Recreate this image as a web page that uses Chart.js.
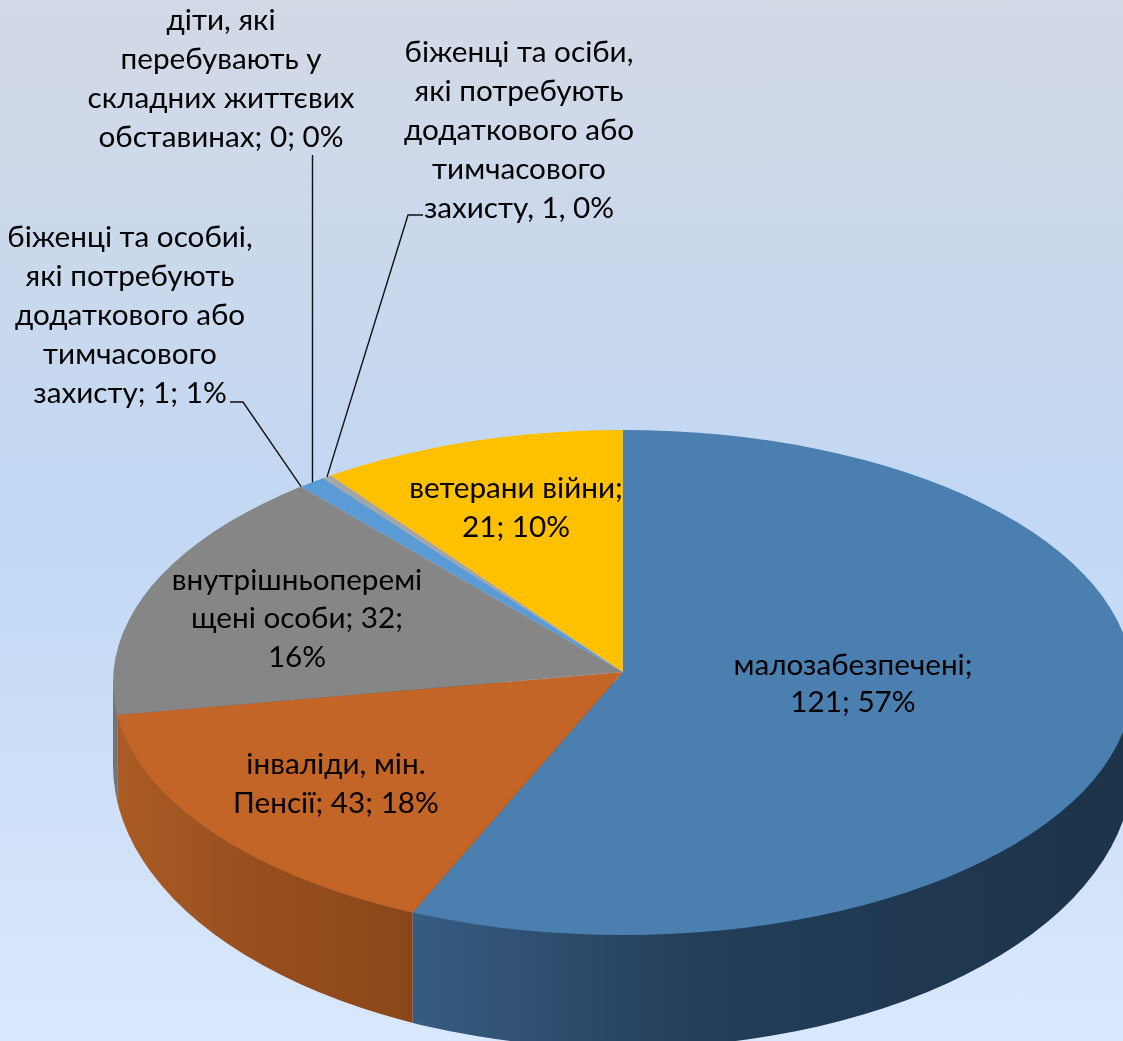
<!DOCTYPE html>
<html>
<head>
<meta charset="utf-8">
<title>Pie</title>
<script src="https://cdn.jsdelivr.net/npm/chart.js@4/dist/chart.umd.min.js"></script>
<style>
  html, body { margin: 0; padding: 0; overflow: hidden; }
  canvas { display: block; background: linear-gradient(180deg, #d3d9e5 0%, #c2d8f4 50%, #d9e8fc 100%); }
</style>
</head>
<body>
<canvas id="myChart" width="1123" height="1041"></canvas>
<script>
const categories = [
  'малозабезпечені',
  'інваліди, мін. Пенсії',
  'внутрішньопереміщені особи',
  'біженці та особиі, які потребують додаткового або тимчасового захисту',
  'діти, які перебувають у складних життєвих обставинах',
  'біженці та осіби, які потребують додаткового або тимчасового захисту',
  'ветерани війни'
];
// slice sizes in percent
const shares = [56.5, 15.8, 16.4, 0.9, 0, 0.3, 10.1];

const labelLines = [
  ['малозабезпечені;', '121; 57%'],
  ['інваліди, мін.', 'Пенсії; 43; 18%'],
  ['внутрішньоперемі', 'щені особи; 32;', '16%'],
  ['біженці та особиі,', 'які потребують', 'додаткового або', 'тимчасового', 'захисту; 1; 1%'],
  ['діти, які', 'перебувають у', 'складних життєвих', 'обставинах; 0; 0%'],
  ['біженці та осіби,', 'які потребують', 'додаткового або', 'тимчасового', 'захисту, 1, 0%'],
  ['ветерани війни;', '21; 10%']
];

const topColors = ['#4a7fb0', '#c26526', '#868686', '#5b9bd5', '#70ad47', '#a5a5a5', '#ffc000'];
const wallColors = [
  ['#375c82', '#233e58', '#1c3349'],
  ['#ab5c25', '#9a5020', '#8a4619'],
  ['#6f757b', '#6f757b', '#6f757b']
];

// label placement: centre x and y of first line
const labelPos = [
  [853, 665], [336, 764], [297, 580], [130, 237], [221, 20], [519, 52], [516, 488]
];
const lineGap = [37, 39, 38.5, 39, 39, 39, 39];

// the top face: the ellipse is not centred on the apex because of the perspective
const face = { cx: 623, cy: 682.5, rx: 510, ry: 252.5 };
const bottom = { cy: 765, ry: 283 };
const squash = 0.495;

function edgePoint(ax, ay, angle) {
  const dx = Math.cos(angle), dy = Math.sin(angle) * squash;
  const ox = (ax - face.cx) / face.rx, oy = (ay - face.cy) / face.ry;
  const px = dx / face.rx, py = dy / face.ry;
  const a = px * px + py * py, b = 2 * (ox * px + oy * py), c = ox * ox + oy * oy - 1;
  const t = (-b + Math.sqrt(b * b - 4 * a * c)) / (2 * a);
  return { x: ax + dx * t, y: ay + dy * t };
}

function drawWalls(chart) {
  const ctx = chart.ctx;
  const arcs = chart.getDatasetMeta(0).data;
  arcs.forEach((arc, i) => {
    if (!wallColors[i]) return;
    const p0 = edgePoint(arc.x, arc.y, arc.startAngle);
    const p1 = edgePoint(arc.x, arc.y, arc.endAngle);
    if (p0.y < face.cy && p1.y < face.cy) return;
    const xl = p1.y < face.cy ? face.cx - face.rx - 1 : p1.x;
    const xr = p0.y < face.cy ? face.cx + face.rx + 1 : p0.x;
    const grad = ctx.createLinearGradient(xl, 0, xr, 0);
    grad.addColorStop(0, wallColors[i][0]);
    grad.addColorStop(0.4, wallColors[i][1]);
    grad.addColorStop(1, wallColors[i][2]);
    ctx.save();
    ctx.beginPath();
    ctx.rect(xl, 0, xr - xl, chart.height);
    ctx.clip();
    ctx.beginPath();
    ctx.moveTo(face.cx + face.rx, face.cy);
    ctx.lineTo(face.cx + face.rx, bottom.cy);
    ctx.ellipse(face.cx, bottom.cy, face.rx, bottom.ry, 0, 0, Math.PI);
    ctx.lineTo(face.cx - face.rx, face.cy);
    ctx.closePath();
    ctx.fillStyle = grad;
    ctx.fill();
    ctx.restore();
  });
}

function drawLeaders(chart) {
  const ctx = chart.ctx;
  const arcs = chart.getDatasetMeta(0).data;
  const a3 = arcs[3], a5 = arcs[5];
  const p1 = edgePoint(a3.x, a3.y, a3.startAngle);
  const p2 = edgePoint(a3.x, a3.y, (a3.startAngle + a3.endAngle) / 2);
  const p3 = edgePoint(a5.x, a5.y, (a5.startAngle + a5.endAngle) / 2);
  ctx.save();
  ctx.strokeStyle = '#111';
  ctx.lineWidth = 1.4;
  ctx.beginPath();
  ctx.moveTo(230, 402); ctx.lineTo(243, 402); ctx.lineTo(p1.x, p1.y);
  ctx.moveTo(Math.round(p2.x) + 0.5, 155); ctx.lineTo(Math.round(p2.x) + 0.5, p2.y);
  ctx.moveTo(423, 215); ctx.lineTo(408, 215); ctx.lineTo(p3.x, p3.y);
  ctx.stroke();
  ctx.restore();
}

function drawLabels(chart) {
  const ctx = chart.ctx;
  ctx.save();
  ctx.fillStyle = '#000';
  ctx.font = '29.7px Lato, "Open Sans", sans-serif';
  ctx.textAlign = 'center';
  ctx.textBaseline = 'middle';
  labelLines.forEach((lines, i) => {
    lines.forEach((txt, j) => {
      ctx.fillText(txt, labelPos[i][0], labelPos[i][1] + j * lineGap[i]);
    });
  });
  ctx.restore();
}

const pie3d = {
  id: 'pie3d',
  beforeDatasetsDraw(chart) {
    const ctx = chart.ctx;
    const arc = chart.getDatasetMeta(0).data[0];
    drawWalls(chart);
    ctx.save();
    ctx.beginPath();
    ctx.ellipse(face.cx, face.cy, face.rx, face.ry, 0, 0, Math.PI * 2);
    ctx.clip();
    ctx.translate(arc.x, arc.y);
    ctx.scale(1, squash);
    ctx.translate(-arc.x, -arc.y);
  },
  afterDatasetsDraw(chart) {
    chart.ctx.restore();
    drawLeaders(chart);
    drawLabels(chart);
  }
};

new Chart(document.getElementById('myChart').getContext('2d'), {
  type: 'pie',
  data: {
    labels: categories,
    datasets: [{
      data: shares,
      backgroundColor: topColors,
      borderWidth: 0,
      radius: 700,
      clip: false,
      hoverOffset: 0
    }]
  },
  options: {
    responsive: false,
    animation: false,
    layout: { padding: { left: 123, top: 303 } },
    plugins: { legend: { display: false }, tooltip: { enabled: false } }
  },
  plugins: [pie3d]
});
</script>
</body>
</html>
